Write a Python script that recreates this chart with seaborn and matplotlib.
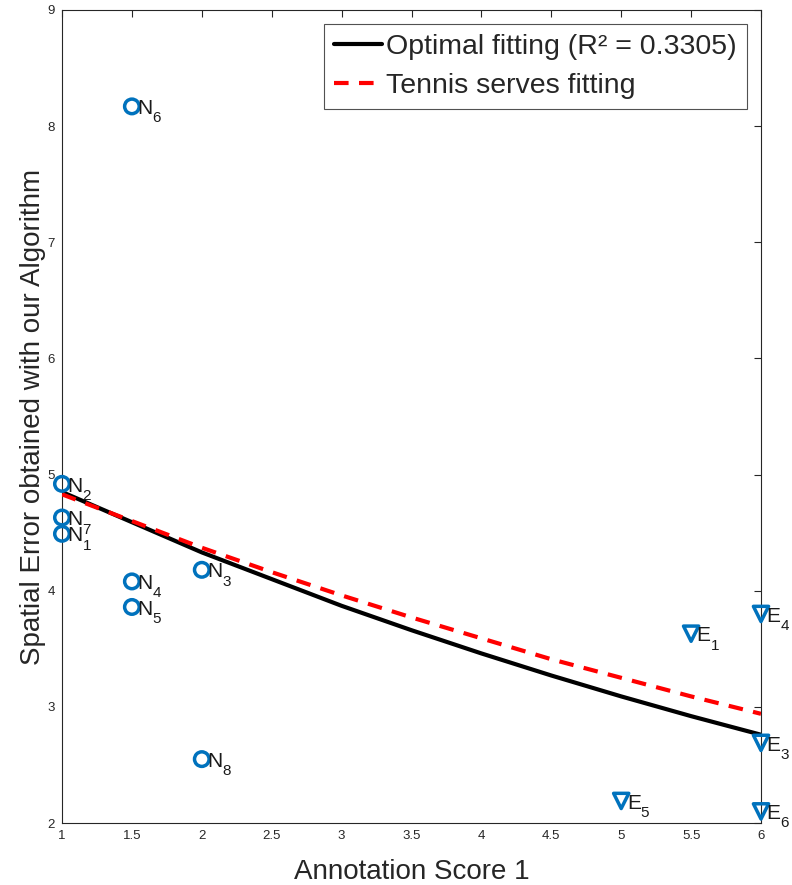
import numpy as np
import pandas as pd
import matplotlib
matplotlib.use("Agg")
import matplotlib.pyplot as plt
import seaborn as sns

# Data
normal_labels = ["N1", "N2", "N3", "N4", "N5", "N6", "N7", "N8"]
normal_x = [1.0, 1.0, 2.0, 1.5, 1.5, 1.5, 1.0, 2.0]
normal_y = [4.49, 4.92, 4.18, 4.08, 3.86, 8.17, 4.63, 2.55]

expert_labels = ["E1", "E3", "E4", "E5", "E6"]
expert_x = [5.5, 6.0, 6.0, 5.0, 6.0]
expert_y = [3.63, 2.69, 3.80, 2.19, 2.10]

# Fitted curves
fit_x = [1.0, 1.5, 2.0, 2.5, 3.0, 3.5, 4.0, 4.5, 5.0, 5.5, 6.0]
optimal_y = [4.85, 4.59, 4.33, 4.10, 3.87, 3.66, 3.46, 3.27, 3.09, 2.92, 2.76]
tennis_y = [4.83, 4.60, 4.37, 4.16, 3.96, 3.77, 3.59, 3.41, 3.25, 3.09, 2.94]

sns.set_style("white")
plt.rcParams['font.family'] = ['Liberation Sans', 'DejaVu Sans']

blue = "#0072BD"
fig = plt.figure(figsize=(7.92, 8.85), dpi=100)
ax = fig.add_axes([62 / 792, 1 - 823 / 885, (761 - 62) / 792, (823 - 10) / 885])

curves = pd.DataFrame({"x": fit_x, "opt": optimal_y, "ten": tennis_y})
sns.lineplot(data=curves, x="x", y="opt", color="black", linewidth=3,
             label="Optimal fitting (R² = 0.3305)", ax=ax, zorder=3)
sns.lineplot(data=curves, x="x", y="ten", color="red", linewidth=3,
             dashes=False, label="Tennis serves fitting", ax=ax, zorder=3)
ax.lines[-1].set_linestyle((0, (3.5, 2.5)))

normals = pd.DataFrame({"x": normal_x, "y": normal_y, "lab": normal_labels})
experts = pd.DataFrame({"x": expert_x, "y": expert_y, "lab": expert_labels})
sns.scatterplot(data=normals, x="x", y="y", marker="o", s=110, facecolors="none",
                edgecolor=blue, linewidth=2.5, ax=ax, zorder=4, clip_on=False)
sns.scatterplot(data=experts, x="x", y="y", marker="v", s=120, facecolors="none",
                edgecolor=blue, linewidth=2.5, ax=ax, zorder=4, clip_on=False)

# point names: letter, then a lowered number (subscript)
for df in (normals, experts):
    for _, r in df.iterrows():
        letter, num = r["lab"][0], r["lab"][1:]
        wid = 10.8 if letter == "N" else 10.0
        ax.annotate(letter, (r["x"], r["y"]), xytext=(4, -5.5), textcoords="offset points",
                    ha="left", va="baseline", fontsize=15, color="#1a1a1a",
                    annotation_clip=False, zorder=5)
        ax.annotate(num, (r["x"], r["y"]), xytext=(4 + wid, -11.5), textcoords="offset points",
                    ha="left", va="baseline", fontsize=11, color="#1a1a1a",
                    annotation_clip=False, zorder=5)

ax.set_xlim(1, 6)
ax.set_ylim(2, 9)
ax.set_xticks(np.arange(1, 6.01, 0.5))
ax.set_xticklabels(["1", "1.5", "2", "2.5", "3", "3.5", "4", "4.5", "5", "5.5", "6"])
ax.set_yticks(range(2, 10))
ax.tick_params(direction="in", top=True, right=True, length=5, width=0.8,
               labelsize=9.5, colors="#262626", pad=5)
for s in ax.spines.values():
    s.set_color("#262626")
    s.set_linewidth(0.8)
ax.set_xlabel("Annotation Score 1", fontsize=20, color="#262626", labelpad=12)
ax.set_ylabel("Spatial Error obtained with our Algorithm", fontsize=20,
              color="#262626", labelpad=1)

leg = ax.legend(loc="upper right", fontsize=20.5, frameon=True, fancybox=False,
                edgecolor="#262626", handlelength=1.7, handletextpad=0.15,
                borderpad=0.35, labelspacing=0.45, borderaxespad=0.5)
leg.get_frame().set_linewidth(0.8)

fig.savefig("out.png", dpi=100)
